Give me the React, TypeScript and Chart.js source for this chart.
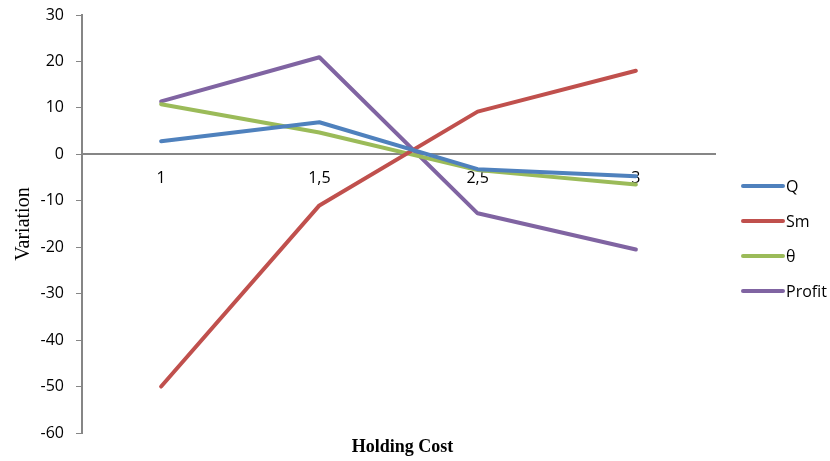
import React, { useEffect, useRef } from "react";
import { Chart, registerables } from "chart.js";

Chart.register(...registerables);

const categories = ["1", "1,5", "2,5", "3"];
const qValues = [2.8, 6.9, -3.2, -4.7];
const smValues = [-50, -11, 9.2, 18];
const thetaValues = [10.8, 4.7, -3.4, -6.5];
const profitValues = [11.4, 20.9, -12.7, -20.5];
const seriesNames = ["Q", "Sm", "θ", "Profit"];
const seriesColors = ["#4F81BD", "#C0504D", "#9BBB59", "#8064A2"];
const yMin = -60;
const yMax = 30;
const yStep = 10;
const xTitle = "Holding Cost";
const yTitle = "Variation";

const AXIS_GRAY = "#868686";
const SANS = '"Open Sans", sans-serif';
const SERIF = '"Liberation Serif", "Times New Roman", serif';

const overlayPlugin = {
  id: "overlay",
  afterDraw(chart: any) {
    const ctx = chart.ctx;
    const a = chart.chartArea;
    ctx.save();
    chart.data.datasets.forEach((ds: any, i: number) => {
      const y = a.top + 171 + i * 35;
      const x = a.right + 28;
      ctx.strokeStyle = ds.borderColor;
      ctx.lineWidth = 4;
      ctx.lineCap = "round";
      ctx.beginPath();
      ctx.moveTo(x, y);
      ctx.lineTo(x + 40, y);
      ctx.stroke();
      ctx.fillStyle = "#000";
      ctx.font = "16px " + SANS;
      ctx.textAlign = "left";
      ctx.textBaseline = "middle";
      ctx.fillText(ds.label, x + 43, y + 1);
    });
    ctx.font = "bold 18px " + SERIF;
    ctx.textAlign = "center";
    ctx.textBaseline = "middle";
    ctx.fillStyle = "#000";
    ctx.fillText(xTitle, (a.left + a.right) / 2 + 4, a.bottom + 14);
    ctx.restore();
  },
};

export default function App() {
  const ref = useRef<HTMLCanvasElement | null>(null);

  useEffect(() => {
    if (!ref.current) return;
    const seriesData = [qValues, smValues, thetaValues, profitValues];
    const chart = new Chart(ref.current, {
      type: "line",
      data: {
        labels: categories,
        datasets: seriesNames.map((name, i) => ({
          label: name,
          data: seriesData[i],
          borderColor: seriesColors[i],
          backgroundColor: seriesColors[i],
          borderWidth: 4,
          pointRadius: 0,
          pointHoverRadius: 0,
          tension: 0,
          borderCapStyle: "round",
          borderJoinStyle: "round",
          fill: false,
        })),
      },
      options: {
        responsive: false,
        animation: false,
        devicePixelRatio: 1,
        layout: { padding: { top: 15, right: 115, bottom: 28, left: 0 } },
        plugins: {
          legend: { display: false },
          tooltip: { enabled: false },
          title: { display: false },
        },
        scales: {
          x: {
            type: "category",
            position: { y: 0 } as any,
            offset: true,
            grid: { display: false, drawTicks: false },
            border: { display: true, color: AXIS_GRAY, width: 2 },
            ticks: {
              color: "#000",
              font: { family: SANS, size: 16 },
              padding: 15,
              maxRotation: 0,
              autoSkip: false,
            },
          },
          y: {
            min: yMin,
            max: yMax,
            grid: {
              display: true,
              drawOnChartArea: false,
              drawTicks: true,
              tickLength: 6,
              color: AXIS_GRAY,
              lineWidth: 1,
            },
            border: { display: true, color: AXIS_GRAY, width: 2 },
            ticks: {
              stepSize: yStep,
              color: "#000",
              font: { family: SANS, size: 16 },
              padding: 12,
            },
            title: {
              display: true,
              text: yTitle,
              color: "#000",
              font: { family: SERIF, size: 20 },
              padding: { top: 12, bottom: 0 },
            },
            afterFit(scale: any) {
              scale.width = 82;
              scale.paddingTop = 0;
              scale.paddingBottom = 0;
            },
          },
        },
      },
      plugins: [overlayPlugin],
    });
    return () => chart.destroy();
  }, []);

  return (
    <div style={{ position: "fixed", left: 0, top: 0, width: 830, height: 461 }}>
      <canvas ref={ref} width={830} height={461} style={{ display: "block" }} />
    </div>
  );
}
